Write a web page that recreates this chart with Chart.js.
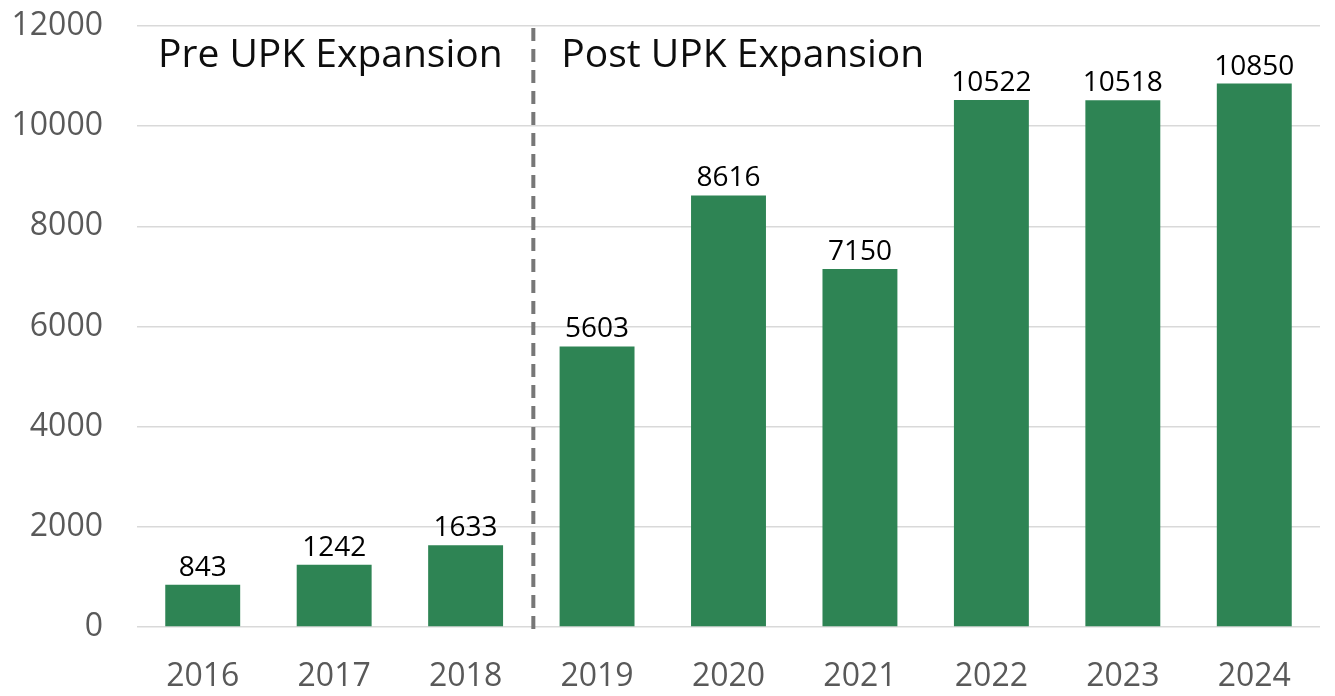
<!DOCTYPE html>
<html>
<head>
<meta charset="utf-8">
<script src="https://cdn.jsdelivr.net/npm/chart.js@4.4.1/dist/chart.umd.min.js"></script>
<style>
    html, body { margin: 0; padding: 0; background: #fff; }
    canvas { display: block; }
</style>
</head>
<body>
<canvas id="upkChart" width="1335" height="696"></canvas>
<script>
// Enrollment per year, before and after the UPK expansion
const years = ['2016', '2017', '2018', '2019', '2020', '2021', '2022', '2023', '2024'];
const enrollment = [843, 1242, 1633, 5603, 8616, 7150, 10522, 10518, 10850];
const yTicks = [0, 2000, 4000, 6000, 8000, 10000, 12000];
const phaseLabels = ['Pre UPK Expansion', 'Post UPK Expansion'];
const splitAfter = '2018';

const FONT = '"Open Sans", "Liberation Sans", sans-serif';

// value above each bar
const barValues = {
    id: 'barValues',
    afterDatasetsDraw(chart) {
        const ctx = chart.ctx;
        const meta = chart.getDatasetMeta(0);
        ctx.save();
        ctx.font = '28px ' + FONT;
        ctx.fillStyle = '#000';
        ctx.textAlign = 'center';
        ctx.textBaseline = 'bottom';
        meta.data.forEach((bar, i) => {
            ctx.fillText(String(enrollment[i]), bar.x, bar.y - 3);
        });
        ctx.restore();
    }
};

// dashed divider and phase captions
const phaseDivider = {
    id: 'phaseDivider',
    afterDraw(chart) {
        const ctx = chart.ctx;
        const x = chart.scales.x;
        const area = chart.chartArea;
        const i = years.indexOf(splitAfter);
        const lineX = (x.getPixelForValue(i) + x.getPixelForValue(i + 1)) / 2 + 2;

        ctx.save();
        ctx.strokeStyle = '#777';
        ctx.lineWidth = 4;
        ctx.setLineDash([13, 8]);
        ctx.beginPath();
        ctx.moveTo(lineX, area.top + 2);
        ctx.lineTo(lineX, area.bottom + 3);
        ctx.stroke();
        ctx.setLineDash([]);

        ctx.font = '39px ' + FONT;
        ctx.fillStyle = '#0d0d0d';
        ctx.textAlign = 'left';
        ctx.textBaseline = 'middle';
        const half = (x.getPixelForValue(1) - x.getPixelForValue(0)) / 2;
        ctx.fillText(phaseLabels[0], x.getPixelForValue(0) - half + 21, area.top + 30);
        ctx.fillText(phaseLabels[1], lineX + 28, area.top + 30);
        ctx.restore();
    }
};

new Chart(document.getElementById('upkChart'), {
    type: 'bar',
    data: {
        labels: years,
        datasets: [{
            data: enrollment,
            backgroundColor: '#2e8454',
            borderWidth: 0,
            barPercentage: 0.57,
            categoryPercentage: 1
        }]
    },
    options: {
        responsive: false,
        animation: false,
        devicePixelRatio: 1,
        layout: { padding: { top: 0, right: 15, bottom: 0, left: 0 } },
        plugins: {
            legend: { display: false },
            tooltip: { enabled: false }
        },
        scales: {
            x: {
                grid: { display: false },
                border: { display: false },
                ticks: {
                    color: '#595959',
                    font: { family: FONT, size: 32 },
                    padding: 23
                },
                afterFit(scale) { scale.height = 69; }
            },
            y: {
                min: 0,
                max: 12000,
                afterBuildTicks(scale) {
                    scale.ticks = yTicks.map(v => ({ value: v }));
                },
                grid: { color: '#d9d9d9', lineWidth: 1.5, drawTicks: false },
                border: { display: false },
                ticks: {
                    color: '#595959',
                    font: { family: FONT, size: 32 },
                    padding: 34,
                    callback: v => String(v)
                },
                afterFit(scale) {
                    scale.width = 137;
                    scale.paddingTop = 26;
                    scale.paddingBottom = 0;
                }
            }
        }
    },
    plugins: [barValues, phaseDivider]
});
</script>
</body>
</html>
